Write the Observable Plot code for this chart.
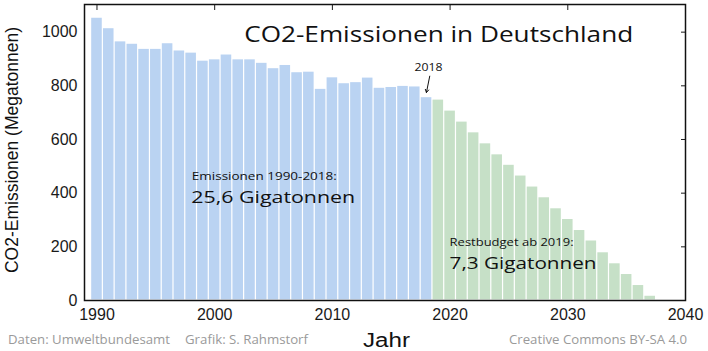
<!DOCTYPE html>
<html><head><meta charset="utf-8">
<script src="https://cdn.jsdelivr.net/npm/d3@7"></script>
<script src="https://cdn.jsdelivr.net/npm/@observablehq/plot@0.6"></script>
<style>body{margin:0;background:#fff}#chart svg{display:block}</style>
</head><body><div id="chart"></div>
<script>
// Data (Megatonnen CO2)
const histYears = [1990,1991,1992,1993,1994,1995,1996,1997,1998,1999,2000,2001,2002,2003,2004,2005,2006,2007,2008,2009,2010,2011,2012,2013,2014,2015,2016,2017,2018];
const histValues = [1054,1015,966,957,938,938,959,932,924,894,899,917,899,899,886,866,878,851,853,789,832,810,814,831,793,796,800,798,758];
const budgetYears = [2019,2020,2021,2022,2023,2024,2025,2026,2027,2028,2029,2030,2031,2032,2033,2034,2035,2036,2037];
const budgetValues = [749,708,667,627,586,545,506,466,425,385,344,304,263,224,180,139,99,58,18];
const xTicks = [1990,2000,2010,2020,2030,2040];
const yTicks = [0,200,400,600,800,1000];

const hist = histYears.map((year,i)=>({year, value: histValues[i]}));
const budget = budgetYears.map((year,i)=>({year, value: budgetValues[i]}));

const ARIAL = "'Liberation Sans', Arial, sans-serif";
const CAL = "'Open Sans', 'Noto Sans', sans-serif";

const chart = Plot.plot({
  width: 708, height: 351,
  marginLeft: 84, marginRight: 23, marginTop: 4, marginBottom: 51,
  x: {domain: [1988.94, 2040]},
  y: {domain: [0, 1103]},
  style: {fontFamily: ARIAL, fontSize: "16px", color: "#1a1a1a", background: "#fff", overflow: "visible"},
  marks: [
    Plot.rectY(hist, {x1: d => d.year - 0.5, x2: d => d.year + 0.5, y: "value", fill: "#bad3f2", inset: 0.6}),
    Plot.rectY(budget, {x1: d => d.year - 0.5, x2: d => d.year + 0.5, y: "value", fill: "#c6e0c7", inset: 0.6}),
    Plot.axisX({anchor: "bottom", ticks: xTicks, tickSize: 0, tickPadding: 8, tickFormat: d => String(d), label: null}),
    Plot.axisX({anchor: "top", ticks: xTicks, tickSize: -5, tickFormat: () => "", label: null}),
    Plot.axisY({anchor: "left", ticks: yTicks, tickSize: 0, tickPadding: 7, tickFormat: d => String(d), label: null}),
    Plot.axisY({anchor: "right", ticks: yTicks, tickSize: -5, tickFormat: () => "", label: null}),
    Plot.frame({stroke: "#111", strokeWidth: 1.5}),
    Plot.arrow([{x1: 2018.27, y1: 836, x2: 2017.99, y2: 775}], {x1: "x1", y1: "y1", x2: "x2", y2: "y2", stroke: "#111", strokeWidth: 1, headLength: 5})
  ]
});
document.getElementById("chart").appendChild(chart);

const sx = chart.scale("x"), sy = chart.scale("y");
const svg = d3.select(chart);
function addText(t, x, y, o) {
  const el = svg.append("text")
    .attr("x", x).attr("y", y)
    .attr("font-family", o.family || CAL)
    .attr("font-size", o.size)
    .attr("fill", o.fill || "#111")
    .attr("text-anchor", o.anchor || "start")
    .text(t);
  if (o.width) el.attr("textLength", o.width).attr("lengthAdjust", "spacingAndGlyphs");
  if (o.rotate) el.attr("transform", `rotate(${o.rotate},${x},${y})`);
  return el;
}
// Annotations in data coordinates
addText("CO2-Emissionen in Deutschland", sx.apply(2002.55), sy.apply(963), {size: 21, width: 389});
addText("2018", sx.apply(2018.2), sy.apply(854), {size: 10.5, width: 28, anchor: "middle"});
addText("Emissionen 1990-2018:", sx.apply(1998.1), sy.apply(447), {size: 11.5, width: 145});
addText("25,6 Gigatonnen", sx.apply(1998.05), sy.apply(363), {size: 17, width: 164});
addText("Restbudget ab 2019:", sx.apply(2020.0), sy.apply(200), {size: 11.5, width: 124});
addText("7,3 Gigatonnen", sx.apply(2020.0), sy.apply(117), {size: 17, width: 147});
// Axis titles
addText("Jahr", 363, 347, {size: 20, width: 47, family: ARIAL});
addText("CO2-Emissionen (Megatonnen)", 18, 150, {size: 17.5, family: ARIAL, anchor: "middle", rotate: -90});
// Footer
addText("Daten: Umweltbundesamt", 8, 344, {size: 12, width: 162, fill: "#9a9a9a"});
addText("Grafik: S. Rahmstorf", 185, 344, {size: 12, width: 123, fill: "#9a9a9a"});
addText("Creative Commons BY-SA 4.0", 509, 344, {size: 12, width: 178, fill: "#9a9a9a"});
</script>
</body></html>
